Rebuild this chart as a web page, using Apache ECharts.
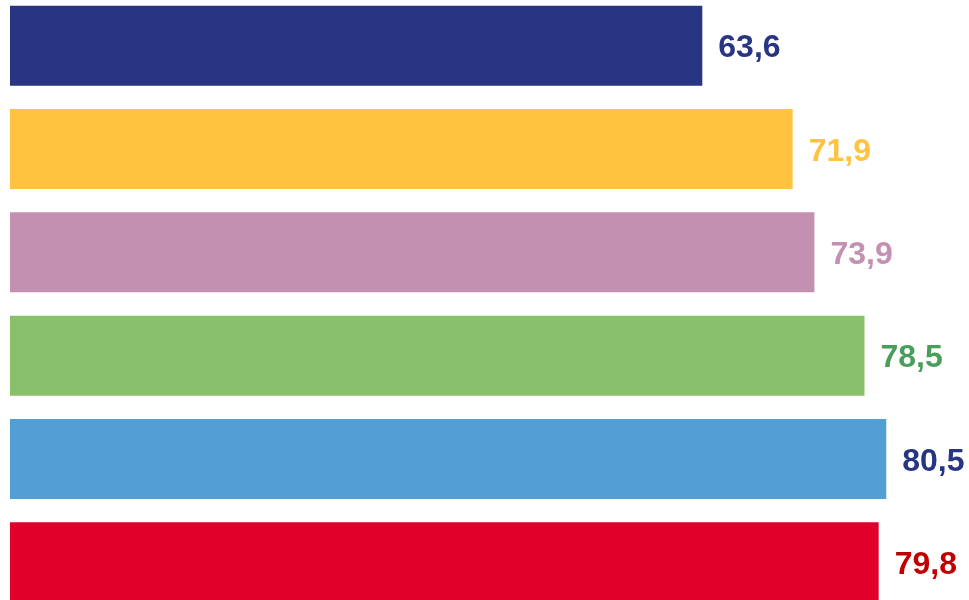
<!DOCTYPE html>
<html>
<head>
<meta charset="utf-8">
<script src="https://cdn.jsdelivr.net/npm/echarts@6/dist/echarts.min.js"></script>
<style>html,body{margin:0;padding:0;background:#fff;overflow:hidden;}#c{width:969px;height:600px;}</style>
</head>
<body>
<div id="c"></div>
<script>
const categories = ['A', 'B', 'C', 'D', 'E', 'F'];
const values = [63.6, 71.9, 73.9, 78.5, 80.5, 79.8];
const labels = ['63,6', '71,9', '73,9', '78,5', '80,5', '79,8'];
const barColors = ['#283583', '#ffc340', '#c490b1', '#88c06c', '#529fd6', '#e10029'];
const labelColors = ['#283583', '#ffc340', '#c490b1', '#4a9e5c', '#283583', '#c00000'];

const chart = echarts.init(document.getElementById('c'));
chart.setOption({
  animation: false,
  grid: { left: 10, right: 0, top: -6, height: 620, containLabel: false, outerBoundsMode: 'none' },
  xAxis: { type: 'value', min: 0, max: 88.1, show: false },
  yAxis: { type: 'category', data: categories, inverse: true, show: false },
  series: [{
    type: 'bar',
    barWidth: 80,
    data: values.map((v, i) => ({
      value: v,
      itemStyle: { color: barColors[i] },
      label: {
        show: true, position: 'right', distance: 16, offset: [0, 3],
        formatter: labels[i],
        color: labelColors[i],
        fontFamily: 'Liberation Sans, Arial, sans-serif',
        fontWeight: 'bold', fontSize: 32
      }
    }))
  }]
});
</script>
</body>
</html>
